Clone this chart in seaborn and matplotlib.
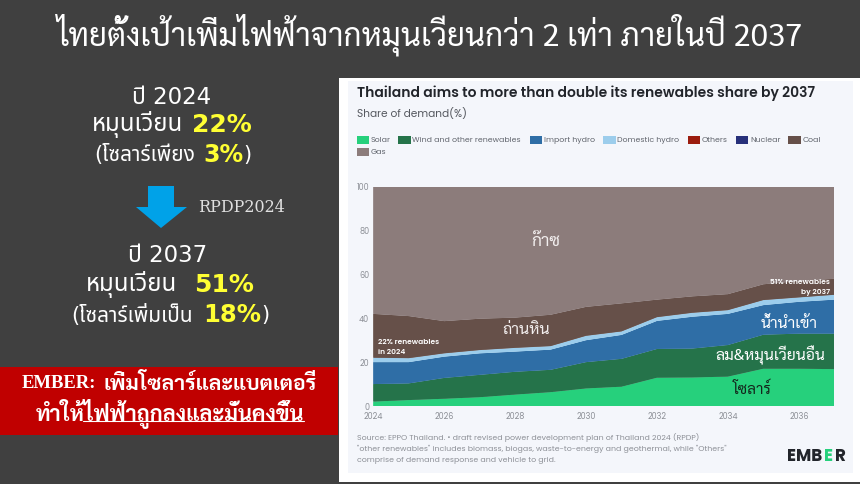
import warnings, logging
import matplotlib
matplotlib.use('Agg')
import matplotlib.pyplot as plt
from matplotlib.patches import Rectangle, Polygon
import pandas as pd
import seaborn as sns
import seaborn.objects as so

logging.getLogger('matplotlib.font_manager').setLevel(logging.ERROR)
warnings.filterwarnings('ignore')

# ---------- data ----------
years = list(range(2024, 2038))
solar    = [2.0, 2.7, 3.3, 4.0, 5.2, 6.3, 8.0, 8.8, 12.9, 13.0, 13.4, 17.0, 17.0, 16.8]
wind     = [8.0, 7.6, 9.5, 10.2, 10.4, 10.2, 12.0, 12.7, 13.1, 13.2, 14.4, 15.5, 16.0, 16.2]
imp_hydro = [10.0, 9.7, 9.7, 9.8, 9.2, 9.2, 10.0, 10.9, 12.8, 14.5, 14.2, 13.5, 14.5, 15.5]
dom_hydro = [2.0, 1.8, 1.5, 1.5, 1.7, 1.6, 2.0, 1.6, 1.7, 1.8, 1.7, 2.3, 2.0, 2.2]
others   = [0] * 14
nuclear  = [0] * 14
coal     = [20.0, 19.2, 14.7, 14.3, 13.8, 14.3, 13.2, 12.8, 8.0, 7.5, 7.3, 7.2, 7.5, 7.3]
gas      = [58.0, 59.0, 61.3, 60.2, 59.7, 58.4, 54.8, 53.2, 51.5, 50.0, 49.0, 44.5, 43.0, 42.0]

sources = ['Solar', 'Wind and other renewables', 'Import hydro', 'Domestic hydro',
           'Others', 'Nuclear', 'Coal', 'Gas']
shares = [solar, wind, imp_hydro, dom_hydro, others, nuclear, coal, gas]
colors = ['#26d07c', '#25734a', '#2f6ea6', '#9ccdec', '#9b1c0e', '#27307a', '#665049', '#8c7c7b']

y_ticks = [0, 20, 40, 60, 80, 100]
x_ticks = [2024, 2026, 2028, 2030, 2032, 2034, 2036]

TITLE_TH = 'ไทยตั้งเป้าเพิ่มไฟฟ้าจากหมุนเวียนกว่า 2 เท่า ภายในปี 2037'
CHART_TITLE = 'Thailand aims to more than double its renewables share by 2037'
SUBTITLE = 'Share of demand(%)'
SOURCE = ['Source: EPPO Thailand. • draft revised power development plan of Thailand 2024 (RPDP)',
          '"other renewables" includes biomass, biogas, waste-to-energy and geothermal, while "Others"',
          'comprise of demand response and vehicle to grid.']

# ---------- style ----------
sns.set_theme(style='white')
W, H = 860, 484
THAI = ['Sarabun', 'Noto Sans Thai', 'Kanit', 'DejaVu Sans']
THAI_D = ['DejaVu Sans', 'Noto Sans Thai', 'Sarabun', 'Kanit']
THAI_B = ['Sarabun', 'Noto Sans Thai', 'Kanit', 'DejaVu Sans']
POP = ['Poppins', 'Noto Sans', 'DejaVu Sans']
plt.rcParams['font.family'] = POP

fig = plt.figure(figsize=(W / 100, H / 100), dpi=100, facecolor='#404040')

# page overlay in pixel coordinates
bg = fig.add_axes([0, 0, 1, 1], zorder=0)
bg.set_xlim(0, W); bg.set_ylim(H, 0); bg.axis('off')
bg.add_patch(Rectangle((338.5, 77.5), W - 338.5, 404.5, fc='#ffffff', ec='none'))
bg.add_patch(Rectangle((348, 81), 505, 392, fc='#f4f6fb', ec='none'))
bg.add_patch(Rectangle((0, 367), 338, 68, fc='#c00000', ec='none'))
bg.add_patch(Polygon([(148, 186), (174, 186), (174, 207), (187, 207), (161, 228),
                      (136, 207), (148, 207)], fc='#00a2e8', ec='none'))

def t(x, y, s, size, color='white', ha='center', family=THAI_D, weight='normal', ax=bg):
    return ax.text(x, y, s, fontsize=size, color=color, ha=ha, va='center',
                   family=family, fontweight=weight)

YEL = '#ffff33'
t(430, 35, TITLE_TH, 22.6, family=THAI)
t(172, 97, 'ปี 2024', 16.5)
t(183, 125, 'หมุนเวียน', 17.3, ha='right')
t(192, 125, '22%', 18, YEL, ha='left', weight='bold')
t(195, 155, '(โซลาร์เพียง', 15, ha='right')
t(203, 155, '3%', 17, YEL, ha='left', weight='bold')
t(243, 155, ')', 15, ha='left')
t(242, 208, 'RPDP2024', 11.5, '#e0e0e0', family=['DejaVu Serif'])
t(168, 255, 'ปี 2037', 16.5)
t(177, 285, 'หมุนเวียน', 17.3, ha='right')
t(194, 285, '51%', 18, YEL, ha='left', weight='bold')
t(193, 315, '(โซลาร์เพิ่มเป็น', 15, ha='right')
t(203, 315, '18%', 17.5, YEL, ha='left', weight='bold')
t(261, 315, ')', 15, ha='left')
t(22, 384, 'EMBER:', 13.4, family=['Liberation Serif', 'DejaVu Serif'], ha='left', weight='bold')
t(317, 384, 'เพิ่มโซลาร์และแบตเตอรี่', 15.2, family=THAI_B, ha='right', weight='bold')
t(170, 414, 'ทำให้ไฟฟ้าถูกลงและมั่นคงขึ้น', 15.6, family=THAI_B, weight='bold')
bg.plot([83, 304], [421, 421], color='white', lw=0.8)

# chart header
t(357, 93, CHART_TITLE, 10.0, '#22252b', ha='left', family=POP, weight=600)
t(357, 114, SUBTITLE, 7.6, '#55585f', ha='left', family=POP)
legend_rows = [(357, 140), (398.3, 140), (530, 140), (603.3, 140), (688, 140), (736, 140), (788.3, 140), (357, 152)]
for (lx, ly), name, c in zip(legend_rows, sources, colors):
    bg.add_patch(Rectangle((lx, ly - 4), 12.3, 8, fc=c, ec='none'))
    t(lx + 14, ly, name, 5.6, '#60646c', ha='left', family=POP)

# footer
for yy, line in zip([437, 449, 460], SOURCE):
    t(357, yy, line, 5.6, '#8c8f96', ha='left', family=POP)
t(787, 457, 'EMB', 12, '#22252b', ha='left', family=POP, weight='bold')
t(824, 457, 'E', 12, '#26d07c', ha='left', family=POP, weight='bold')
t(835.5, 457, 'R', 12, '#22252b', ha='left', family=POP, weight='bold')

# stacked area chart
left, right, top, bottom = 373.3, 834.3, 186.7, 406.0
ax = fig.add_axes([left / W, 1 - bottom / H, (right - left) / W, (bottom - top) / H], zorder=2)
df = pd.DataFrame({'year': years * len(sources),
                   'share': [v for s in shares for v in s],
                   'source': [n for n in sources for _ in years]})
drawn = df[df['share'] > 0]
(so.Plot(drawn, x='year', y='share', color='source')
   .add(so.Area(alpha=1, edgewidth=0.5), so.Stack(), legend=False)
   .scale(color=so.Nominal(dict(zip(sources, colors)), order=sources))
   .on(ax).plot())
ax.set_xlim(2024, 2037)
ax.set_ylim(0, 100)
ax.set_xticks(x_ticks); ax.set_yticks(y_ticks)
ax.set_xlabel(''); ax.set_ylabel('')
ax.tick_params(axis='both', labelsize=5.8, labelcolor='#8c8f96', length=0, pad=3)
ax.tick_params(axis='x', length=1.5, color='#c8cad0', pad=2.5)
for lab in ax.get_xticklabels() + ax.get_yticklabels():
    lab.set_family(POP)
for sp in ax.spines.values():
    sp.set_visible(False)
ax.patch.set_alpha(0)

# direct labels over the areas (overlay axes in pixels)
top_ax = fig.add_axes([0, 0, 1, 1], zorder=3)
top_ax.set_xlim(0, W); top_ax.set_ylim(H, 0); top_ax.axis('off'); top_ax.patch.set_alpha(0)
t(546, 241, 'ก๊าซ', 12.5, '#f2eeee', family=THAI, ax=top_ax)
t(526, 330, 'ถ่านหิน', 11.5, '#f2eeee', family=THAI, ax=top_ax)
t(789, 324, 'น้ำนำเข้า', 11.3, '#ffffff', family=THAI, ax=top_ax)
t(770, 355, 'ลม&หมุนเวียนอื่น', 11.3, '#ffffff', family=THAI, ax=top_ax)
t(752, 389, 'โซลาร์', 11, '#13261c', family=THAI, ax=top_ax)
t(378, 342, '22% renewables', 5.4, 'white', ha='left', family=POP, weight=600, ax=top_ax)
t(378, 352, 'in 2024', 5.4, 'white', ha='left', family=POP, weight=600, ax=top_ax)
t(830, 283, '51% renewables', 5.4, 'white', ha='right', family=POP, weight=600, ax=top_ax)
t(830, 292, 'by 2037', 5.4, 'white', ha='right', family=POP, weight=600, ax=top_ax)

fig.savefig('out.png', dpi=100, facecolor=fig.get_facecolor())
